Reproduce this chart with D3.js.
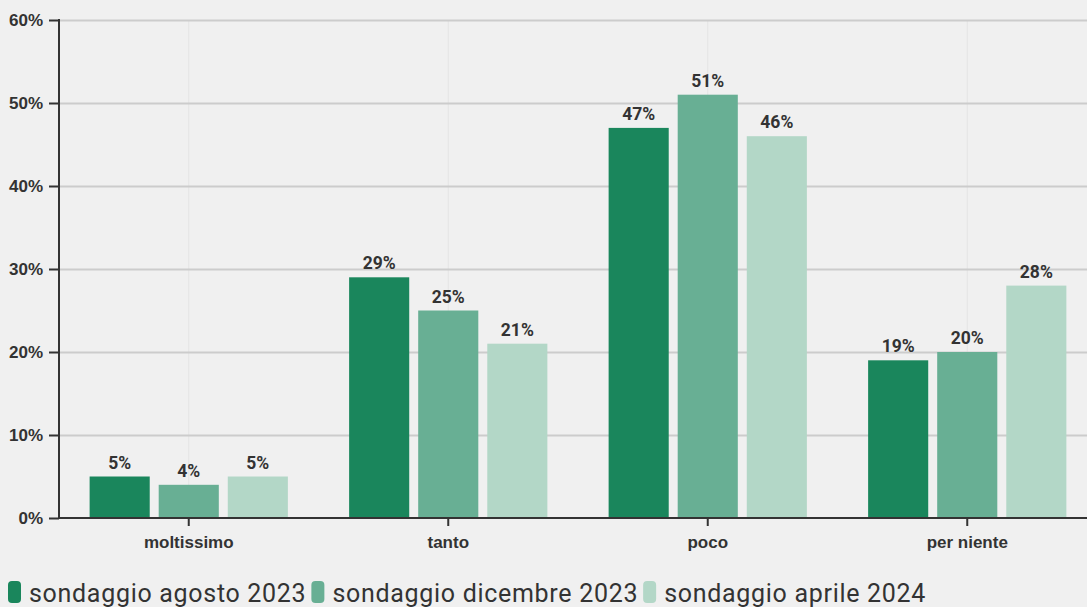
<!DOCTYPE html>
<html>
<head>
<meta charset="utf-8">
<script src="https://cdn.jsdelivr.net/npm/d3@7"></script>
<style>
  body { margin: 0; background: #f0f0f0; font-family: Roboto, sans-serif; }
  svg { display: block; }
</style>
</head>
<body>
<svg id="chart" width="1087" height="607"></svg>
<script>
const categories = ['moltissimo', 'tanto', 'poco', 'per niente'];
const seriesNames = ['sondaggio agosto 2023', 'sondaggio dicembre 2023', 'sondaggio aprile 2024'];
const agosto2023 = [5, 29, 47, 19];
const dicembre2023 = [4, 25, 51, 20];
const aprile2024 = [5, 21, 46, 28];
const yTicks = [0, 10, 20, 30, 40, 50, 60];

const seriesValues = [agosto2023, dicembre2023, aprile2024];
const colors = ['#1a865c', '#68af94', '#b3d7c7'];

const width = 1087, height = 607;
const margin = {top: 20, left: 59, bottom: 89};
const svg = d3.select('#chart');

const x0 = d3.scaleBand()
  .domain(categories)
  .range([margin.left, 1097])
  .paddingInner(0.236)
  .paddingOuter(0.118);

const x1 = d3.scaleBand()
  .domain(seriesNames)
  .range([0, x0.bandwidth()])
  .paddingInner(0.13);

const y = d3.scaleLinear()
  .domain([0, 60])
  .range([height - margin.bottom, margin.top]);

// vertical gridlines at band centres
svg.append('g')
  .selectAll('line')
  .data(categories)
  .join('line')
    .attr('x1', d => x0(d) + x0.bandwidth() / 2)
    .attr('x2', d => x0(d) + x0.bandwidth() / 2)
    .attr('y1', y(60))
    .attr('y2', y(0))
    .attr('stroke', '#e4e4e4')
    .attr('stroke-width', 1);

// horizontal gridlines + y axis
const yAxis = g => g
  .attr('transform', `translate(${margin.left},0)`)
  .call(d3.axisLeft(y).tickValues(yTicks).tickFormat(d => d + '%').tickSize(10).tickPadding(6))
  .call(g => g.select('.domain').remove())
  .call(g => g.selectAll('.tick line').attr('stroke', '#333').attr('stroke-width', 2))
  .call(g => g.selectAll('.tick').filter(d => d > 0).append('line')
      .attr('x2', width - margin.left)
      .attr('stroke', '#cccccc')
      .attr('stroke-width', 2))
  .call(g => g.selectAll('.tick text')
      .attr('fill', '#333')
      .attr('font-size', 17)
      .attr('font-weight', 'bold'));

svg.append('g').call(yAxis);

// bars
const groups = svg.append('g')
  .selectAll('g')
  .data(categories)
  .join('g')
    .attr('transform', d => `translate(${x0(d)},0)`);

groups.selectAll('rect')
  .data((d, i) => seriesNames.map((s, j) => ({s, j, v: seriesValues[j][i]})))
  .join('rect')
    .attr('x', d => x1(d.s))
    .attr('y', d => y(d.v))
    .attr('width', x1.bandwidth())
    .attr('height', d => y(0) - y(d.v))
    .attr('fill', d => colors[d.j]);

groups.selectAll('text')
  .data((d, i) => seriesNames.map((s, j) => ({s, j, v: seriesValues[j][i]})))
  .join('text')
    .attr('x', d => x1(d.s) + x1.bandwidth() / 2)
    .attr('y', d => y(d.v) - 8)
    .attr('text-anchor', 'middle')
    .attr('fill', '#333')
    .attr('font-size', 17.5)
    .attr('font-weight', 'bold')
    .text(d => d.v + '%');

// x axis
const xAxis = g => g
  .attr('transform', `translate(0,${y(0)})`)
  .call(d3.axisBottom(x0).tickSize(8).tickSizeOuter(0).tickPadding(10))
  .call(g => g.select('.domain').attr('stroke', '#333').attr('stroke-width', 2)
      .attr('d', `M${margin.left},0H${width}`))
  .call(g => g.selectAll('.tick line').attr('stroke', '#333').attr('stroke-width', 2))
  .call(g => g.selectAll('.tick text')
      .attr('fill', '#333')
      .attr('font-size', 17)
      .attr('font-weight', 'bold'));

svg.append('g').call(xAxis);

// y axis line
svg.append('line')
  .attr('x1', margin.left).attr('x2', margin.left)
  .attr('y1', y(60) - 1).attr('y2', y(0) + 1)
  .attr('stroke', '#333')
  .attr('stroke-width', 2);

// legend
const legend = svg.append('g').attr('transform', 'translate(8,581)');
let lx = 0;
seriesNames.forEach((s, i) => {
  const item = legend.append('g').attr('transform', `translate(${lx},0)`);
  item.append('rect')
    .attr('width', 13).attr('height', 22)
    .attr('rx', 4)
    .attr('fill', colors[i]);
  const t = item.append('text')
    .attr('x', 21).attr('y', 21)
    .attr('fill', '#333')
    .attr('font-size', 25)
    .attr('letter-spacing', 0.7)
    .text(s);
  lx += 21 + t.node().getComputedTextLength() + 5;
});
</script>
</body>
</html>
